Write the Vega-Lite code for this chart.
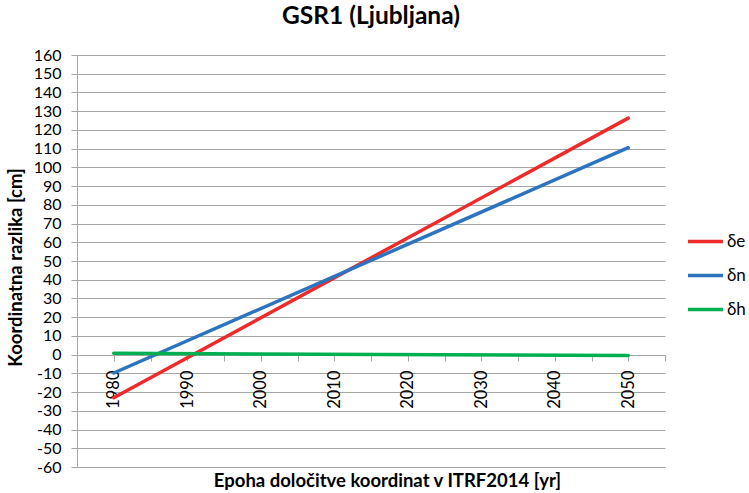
{
  "$schema": "https://vega.github.io/schema/vega-lite/v6.json",
  "width": 588,
  "height": 412,
  "autosize": {"type": "none"},
  "padding": {"left": 77, "top": 55, "right": 84, "bottom": 26},
  "background": "white",
  "title": {
    "text": "GSR1 (Ljubljana)",
    "font": "Lato",
    "fontSize": 24.5,
    "fontWeight": "bold",
    "color": "#000000",
    "anchor": "middle",
    "baseline": "alphabetic",
    "offset": -1
  },
  "config": {
    "view": {"stroke": null},
    "font": "Lato"
  },
  "data": {
    "values": [
      {"series": "δe", "year": 1980, "value": -23},
      {"series": "δe", "year": 2050, "value": 126.3},
      {"series": "δn", "year": 1980, "value": -9.8},
      {"series": "δn", "year": 2050, "value": 110.5},
      {"series": "δh", "year": 1980, "value": 0.7},
      {"series": "δh", "year": 2050, "value": -0.4}
    ]
  },
  "mark": {"type": "line", "strokeWidth": 3.5, "strokeCap": "round"},
  "encoding": {
    "x": {
      "field": "year",
      "type": "quantitative",
      "scale": {"domain": [1975, 2055], "nice": false, "zero": false},
      "axis": {
        "title": "Epoha določitve koordinat v ITRF2014 [yr]",
        "titleFont": "Lato",
        "titleFontSize": 18.5,
        "titleFontWeight": "bold",
        "titleColor": "#000000",
        "titleX": 310,
        "titleY": 131,
        "titleBaseline": "alphabetic",
        "titleAnchor": "middle",
        "offset": -112,
        "values": [1975, 1980, 1985, 1990, 1995, 2000, 2005, 2010, 2015, 2020, 2025, 2030, 2035, 2040, 2045, 2050, 2055],
        "labelExpr": "(datum.value >= 1980 && datum.value <= 2050 && datum.value % 10 == 0) ? '' + datum.value : ''",
        "labelAngle": -90,
        "labelFontSize": 16.5,
        "labelColor": "#000000",
        "labelPadding": 9,
        "labelFlush": false,
        "labelOverlap": false,
        "grid": false,
        "domainColor": "#a6a6a6",
        "domainWidth": 1,
        "tickColor": "#a6a6a6",
        "tickSize": 6
      }
    },
    "y": {
      "field": "value",
      "type": "quantitative",
      "scale": {"domain": [-60, 160], "nice": false},
      "axis": {
        "title": "Koordinatna razlika [cm]",
        "titleFont": "Lato",
        "titleFontSize": 18.5,
        "titleFontWeight": "bold",
        "titleColor": "#000000",
        "titleX": -56,
        "titleY": 212,
        "titleAngle": -90,
        "titleBaseline": "alphabetic",
        "titleAnchor": "middle",
        "values": [-60, -50, -40, -30, -20, -10, 0, 10, 20, 30, 40, 50, 60, 70, 80, 90, 100, 110, 120, 130, 140, 150, 160],
        "labelExpr": "'' + datum.value",
        "labelFontSize": 16,
        "labelColor": "#000000",
        "labelPadding": 10,
        "labelFlush": false,
        "labelOverlap": false,
        "grid": true,
        "gridColor": "#a6a6a6",
        "gridWidth": 1,
        "domainColor": "#a6a6a6",
        "tickColor": "#a6a6a6",
        "tickSize": 6
      }
    },
    "color": {
      "field": "series",
      "type": "nominal",
      "scale": {"domain": ["δe", "δn", "δh"], "range": ["#ee2b2b", "#2c74bf", "#00b050"]},
      "legend": {
        "title": null,
        "orient": "none",
        "legendX": 609,
        "legendY": 167,
        "symbolType": "stroke",
        "symbolSize": 1225,
        "symbolStrokeWidth": 3.5,
        "labelFontSize": 17,
        "labelColor": "#000000",
        "labelOffset": 2,
        "rowPadding": 6
      }
    }
  }
}
